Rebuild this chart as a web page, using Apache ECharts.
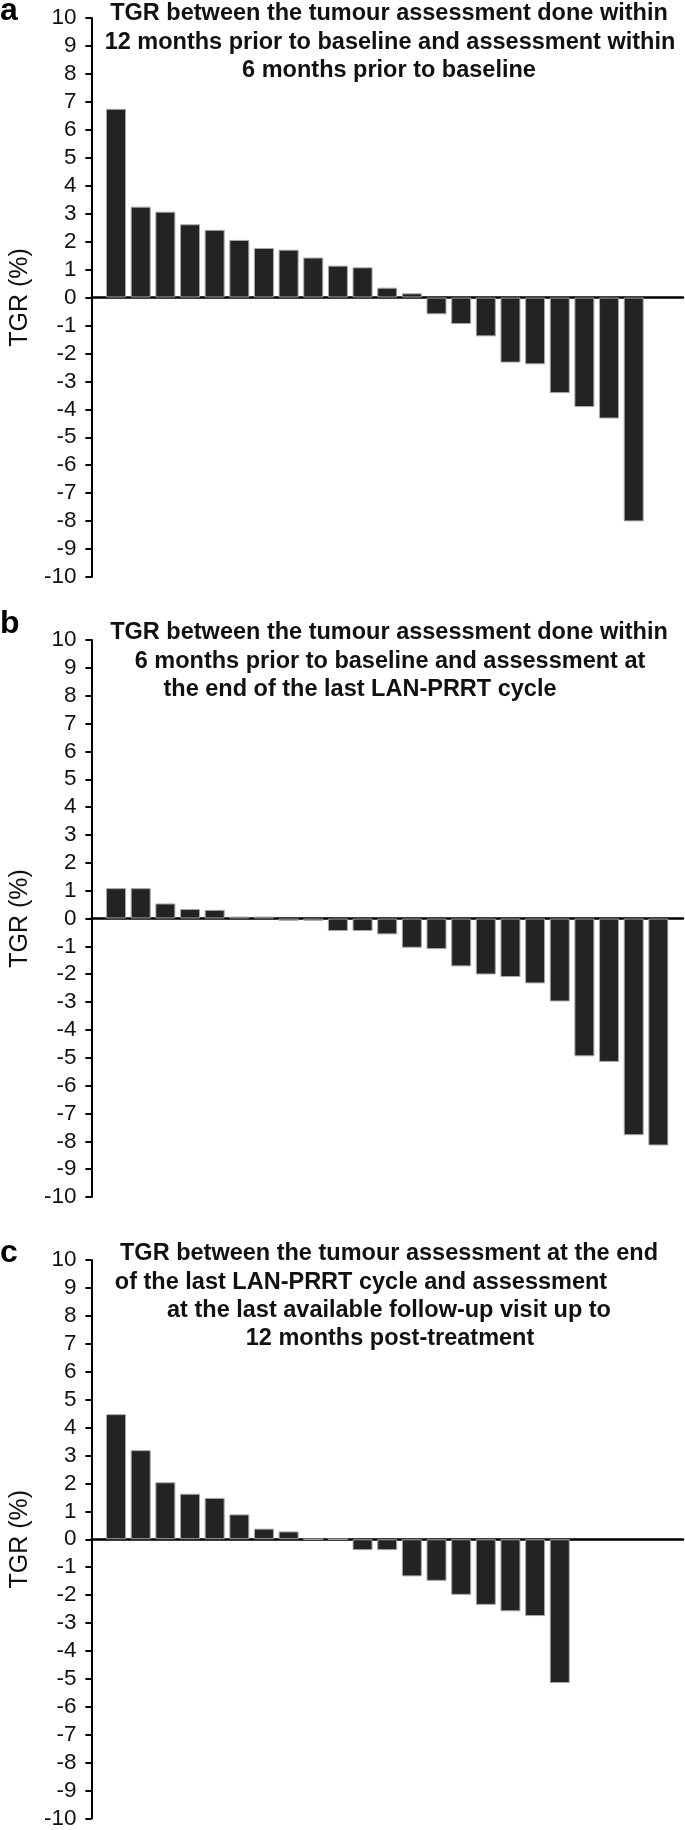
<!DOCTYPE html>
<html>
<head>
<meta charset="utf-8">
<script src="https://cdn.jsdelivr.net/npm/echarts@6/dist/echarts.min.js"></script>
<style>
  html, body { margin: 0; padding: 0; background: #fff; }
  #chart { width: 685px; height: 1830px; }
</style>
</head>
<body>
<div id="chart"></div>
<script>
// ---- data ----
const slotCount = 25; // category slots along the x axis (slot 0 sits on the y axis)
const slots = Array.from({ length: slotCount }, (_, i) => 'P' + i);

const tgrA = [6.75, 3.25, 3.07, 2.62, 2.42, 2.06, 1.77, 1.71, 1.43, 1.14, 1.08, 0.35, 0.15,
              -0.6, -0.95, -1.39, -2.33, -2.39, -3.42, -3.92, -4.33, -8.01];
const tgrB = [1.09, 1.09, 0.54, 0.34, 0.31, 0.07, 0.07, -0.08, -0.08, -0.45, -0.45, -0.57,
              -1.05, -1.1, -1.72, -2.01, -2.1, -2.33, -2.98, -4.95, -5.15, -7.78, -8.15];
const tgrC = [4.48, 3.19, 2.04, 1.63, 1.48, 0.89, 0.38, 0.28, 0, 0,
              -0.39, -0.39, -1.33, -1.49, -1.99, -2.35, -2.58, -2.75, -5.15];

const yTicks = { min: -10, max: 10, interval: 1 };
const yName = 'TGR (%)';

const panelLetters = ['a', 'b', 'c'];
const titlesA = ['TGR between the tumour assessment done within',
                 '12 months prior to baseline and assessment within',
                 '6 months prior to baseline'];
const titlesB = ['TGR between the tumour assessment done within',
                 '6 months prior to baseline and assessment at',
                 'the end of the last LAN-PRRT cycle'];
const titlesC = ['TGR between the tumour assessment at the end',
                 'of the last LAN-PRRT cycle and assessment',
                 'at the last available follow-up visit up to',
                 '12 months post-treatment'];

// ---- layout ----
const FONT = '"Liberation Sans", Arial, Helvetica, sans-serif';
const gridLeft = 72;
const gridWidth = 611;
const panels = [
  { top: 18,   height: 559, data: tgrA, titles: titlesA, titleY: 14,   titleX: [389, 390, 389],      letterY: 11 },
  { top: 640,  height: 557, data: tgrB, titles: titlesB, titleY: 633,  titleX: [389, 390, 360],      letterY: 624 },
  { top: 1260, height: 560, data: tgrC, titles: titlesC, titleY: 1254, titleX: [389, 361, 389, 390], letterY: 1253 }
];
const lineGap = 28.2;

const grids = [], xAxes = [], yAxes = [], series = [], graphics = [];
panels.forEach((p, i) => {
  grids.push({ left: gridLeft, top: p.top, width: gridWidth, height: p.height, containLabel: false });
  xAxes.push({
    type: 'category', gridIndex: i, data: slots, boundaryGap: false,
    axisLine: { show: true, onZero: true, lineStyle: { color: '#000', width: 2.5 } },
    axisTick: { show: false }, axisLabel: { show: false }, splitLine: { show: false }
  });
  yAxes.push({
    type: 'value', gridIndex: i, min: yTicks.min, max: yTicks.max, interval: yTicks.interval,
    name: yName, nameLocation: 'middle', nameGap: 57,
    nameTextStyle: { fontFamily: FONT, fontSize: 25, color: '#111' },
    axisLine: { show: true, onZero: false, lineStyle: { color: '#000', width: 2 } },
    axisTick: { show: true, length: 6, lineStyle: { color: '#000', width: 2 } },
    axisLabel: { show: true, margin: 15, fontFamily: FONT, fontSize: 22.5, color: '#111' },
    splitLine: { show: false }
  });
  series.push({
    type: 'bar', xAxisIndex: i, yAxisIndex: i,
    data: [null].concat(p.data),
    barWidth: 20,
    itemStyle: { color: '#232323', borderColor: '#a8a8a8', borderWidth: 1 },
    silent: true, animation: false
  });
  graphics.push({
    type: 'text', x: 0, y: p.letterY,
    style: { text: panelLetters[i], font: 'bold 32px ' + FONT, fill: '#000',
             textAlign: 'left', textVerticalAlign: 'middle', align: 'left', verticalAlign: 'middle' }
  });
  p.titles.forEach((t, k) => {
    graphics.push({
      type: 'text', x: p.titleX[k], y: p.titleY + k * lineGap,
      style: { text: t, font: 'bold 23.5px ' + FONT, fill: '#111',
               textAlign: 'center', textVerticalAlign: 'middle', align: 'center', verticalAlign: 'middle' }
    });
  });
});

const chart = echarts.init(document.getElementById('chart'), null, { renderer: 'canvas' });
chart.setOption({
  animation: false,
  backgroundColor: '#fff',
  grid: grids,
  xAxis: xAxes,
  yAxis: yAxes,
  series: series,
  graphic: graphics
});
</script>
</body>
</html>
